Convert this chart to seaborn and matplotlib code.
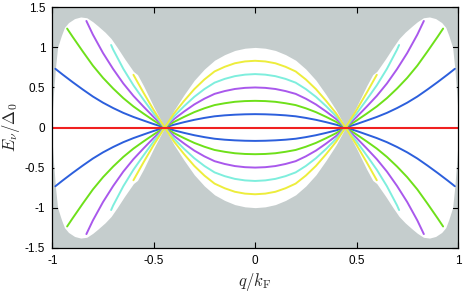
import numpy as np
import pandas as pd
import matplotlib
matplotlib.use("Agg")
import matplotlib.pyplot as plt
import seaborn as sns

sns.set_theme(style="ticks")
plt.rcParams["font.family"] = ["Liberation Sans", "DejaVu Sans"]
plt.rcParams["mathtext.fontset"] = "cm"
plt.rcParams["axes.unicode_minus"] = False

# Half-range momentum grid (chart is symmetric in q and E)
q_half = [0.0, 0.05, 0.10, 0.15, 0.20, 0.25, 0.30, 0.35, 0.40, 0.45, 0.50,
          0.55, 0.60, 0.65, 0.70, 0.75, 0.80, 0.85, 0.90, 0.95, 0.985]

blue_E = [0.167, 0.165, 0.160, 0.152, 0.140, 0.120, 0.096, 0.067, 0.035, -0.003, -0.043,
          -0.087, -0.132, -0.183, -0.243, -0.310, -0.387, -0.475, -0.567, -0.663, -0.733]
green_q = [0.0, 0.05, 0.10, 0.15, 0.20, 0.25, 0.30, 0.35, 0.40, 0.45, 0.50,
           0.55, 0.60, 0.65, 0.70, 0.75, 0.80, 0.85, 0.90, 0.927]
green_E = [0.333, 0.330, 0.321, 0.303, 0.280, 0.240, 0.192, 0.133, 0.070, -0.007, -0.087,
           -0.173, -0.263, -0.367, -0.487, -0.620, -0.773, -0.950, -1.133, -1.235]
purple_q = [0.0, 0.05, 0.10, 0.15, 0.20, 0.25, 0.30, 0.35, 0.40, 0.45, 0.50,
            0.55, 0.60, 0.65, 0.70, 0.75, 0.80, 0.832]
purple_E = [0.500, 0.495, 0.481, 0.455, 0.420, 0.360, 0.288, 0.200, 0.105, -0.010, -0.130,
            -0.260, -0.395, -0.550, -0.730, -0.930, -1.160, -1.330]
cyan_q = [0.0, 0.05, 0.10, 0.15, 0.20, 0.25, 0.30, 0.35, 0.40, 0.45, 0.50,
          0.55, 0.60, 0.65, 0.70, 0.71]
cyan_E = [0.667, 0.660, 0.641, 0.607, 0.560, 0.480, 0.383, 0.267, 0.140, -0.013, -0.173,
          -0.347, -0.527, -0.733, -0.973, -1.030]
yellow_q = [0.0, 0.05, 0.10, 0.15, 0.20, 0.25, 0.30, 0.35, 0.40, 0.45, 0.50,
            0.55, 0.60]
yellow_E = [0.833, 0.825, 0.802, 0.758, 0.700, 0.600, 0.479, 0.333, 0.175, -0.017, -0.217,
            -0.433, -0.658]

# Upper edge of the white (allowed) region, q >= 0
env_q = [0.0, 0.05, 0.10, 0.15, 0.20, 0.25, 0.30, 0.35, 0.40, 0.446, 0.50, 0.55, 0.58,
         0.60, 0.644, 0.68, 0.71, 0.74, 0.776, 0.80, 0.83, 0.86, 0.89, 0.92, 0.94,
         0.955, 0.974, 0.985, 0.995, 1.0]
env_E = [1.0, 0.99, 0.962, 0.91, 0.84, 0.73, 0.59, 0.41, 0.215, 0.0, 0.26, 0.52, 0.66,
         0.70, 0.86, 1.0, 1.11, 1.19, 1.27, 1.32, 1.37, 1.38, 1.36, 1.31, 1.25,
         1.15, 1.0, 0.73, 0.40, 0.20]

curves = [("blue", q_half, blue_E, "#2c5fdc"),
          ("green", green_q, green_E, "#6ee01a"),
          ("purple", purple_q, purple_E, "#a958ec"),
          ("cyan", cyan_q, cyan_E, "#7eeedd"),
          ("yellow", yellow_q, yellow_E, "#eded3c")]


def mirror(qs, es):
    qs = np.asarray(qs)
    es = np.asarray(es)
    q_full = np.concatenate([-qs[::-1], qs[1:]])
    e_full = np.concatenate([es[::-1], es[1:]])
    return q_full, e_full


fig = plt.figure(figsize=(4.63, 2.94), dpi=100)
ax = fig.add_axes([0.113, 0.1575, 0.876, 0.8175])
ax.set_facecolor("#c5cdcd")

eq, ee = mirror(env_q, env_E)
ax.fill_between(eq, -ee, ee, color="white", lw=0, zorder=1)

for name, qs, es, col in curves:
    qf, ef = mirror(qs, es)
    for sgn in (1, -1):
        df = pd.DataFrame({"q": qf, "E": sgn * ef})
        sns.lineplot(data=df, x="q", y="E", ax=ax, color=col, lw=1.4,
                     sort=False, estimator=None, legend=False, zorder=3)

red_q = [-1.0, 1.0]
red_E = [0.0, 0.0]
sns.lineplot(x=red_q, y=red_E, ax=ax, color="#f02020", lw=1.5, legend=False, zorder=4)

ax.set_xlim(-1, 1)
ax.set_ylim(-1.5, 1.5)
ax.set_xticks([-1, -0.5, 0, 0.5, 1])
ax.set_xticklabels(["-1", "-0.5", "0", "0.5", "1"])
ax.set_yticks([-1.5, -1, -0.5, 0, 0.5, 1, 1.5])
ax.set_yticklabels(["-1.5", "-1", "-0.5", "0", "0.5", "1", "1.5"])
ax.tick_params(direction="in", length=4, width=0.8, top=True, right=True,
               labelsize=8.5, colors="black", pad=5)
for s in ax.spines.values():
    s.set_linewidth(0.9)
    s.set_color("black")
    s.set_zorder(5)

ax.set_xlabel(r"$q/k_{\rm F}$", fontsize=12, labelpad=3)
ax.set_ylabel(r"$E_\nu/\Delta_0$", fontsize=12, labelpad=2)

fig.savefig("out.png", dpi=100)
